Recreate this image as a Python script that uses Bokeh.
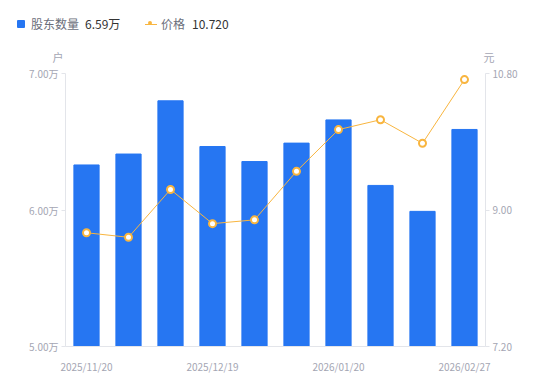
from bokeh.plotting import figure
from bokeh.layouts import column
from bokeh.models import (Range1d, LinearAxis, FixedTicker, PrintfTickFormatter,
                          ColumnDataSource, Div)
from bokeh.embed import file_html
from bokeh.resources import INLINE

dates = ["2025/11/20", "2025/11/30", "2025/12/10", "2025/12/19", "2025/12/31",
         "2026/01/09", "2026/01/20", "2026/01/30", "2026/02/10", "2026/02/27"]
holders = [6.33, 6.41, 6.80, 6.465, 6.355, 6.49, 6.66, 6.18, 5.99, 6.59]  # 万户
price = [8.70, 8.64, 9.27, 8.82, 8.87, 9.51, 10.06, 10.19, 9.88, 10.72]
shown_ticks = [0, 3, 6, 9]

FONT = "Noto Sans CJK SC"
BLUE = "#2676f2"
ORANGE = "#f8b53f"
GRAY = "#a4a6b3"
AX = "#e3e5ea"
W = 540

idx = list(range(len(dates)))
src = ColumnDataSource(dict(x=idx, holders=holders, price=price, date=dates))

p = figure(width=W, height=316, output_backend="svg", toolbar_location=None,
           x_range=Range1d(-0.5, 9.5), y_range=Range1d(5.0, 7.0),
           min_border_left=65, min_border_right=W - 485, min_border_top=8, min_border_bottom=35)
p.outline_line_color = None
p.grid.visible = False
p.extra_y_ranges = {"price": Range1d(7.2, 10.8)}

p.vbar(x="x", top="holders", bottom=5.0, width=0.6, color=BLUE, source=src)
p.line(x="x", y="price", y_range_name="price", line_color=ORANGE, line_width=1, source=src)
p.scatter(x="x", y="price", y_range_name="price", size=7, fill_color="white",
          line_color=ORANGE, line_width=2, source=src)

la = p.yaxis[0]
la.ticker = FixedTicker(ticks=[5.0, 6.0, 7.0])
la.formatter = PrintfTickFormatter(format="%.2f万")
ra = LinearAxis(y_range_name="price", ticker=FixedTicker(ticks=[7.2, 9.0, 10.8]),
                formatter=PrintfTickFormatter(format="%.2f"))
p.add_layout(ra, "right")
for a in (la, ra):
    a.axis_line_color = AX
    a.major_tick_line_color = AX
    a.major_tick_out = 4
    a.major_tick_in = 0
    a.minor_tick_line_color = None
    a.major_label_text_color = GRAY
    a.major_label_text_font = FONT
    a.major_label_text_font_size = "10px"
    a.major_label_standoff = 3

xa = p.xaxis[0]
xa.ticker = FixedTicker(ticks=shown_ticks)
xa.major_label_overrides = {i: dates[i] for i in shown_ticks}
xa.axis_line_color = AX
xa.major_tick_line_color = None
xa.minor_tick_line_color = None
xa.major_label_text_color = GRAY
xa.major_label_text_font = FONT
xa.major_label_text_font_size = "10px"
xa.major_label_standoff = 6


def span(left, top, text, color, size=12, extra=""):
    return (f'<span style="position:absolute;left:{left}px;top:{top}px;'
            f'color:{color};font-size:{size}px;line-height:16px;white-space:nowrap;{extra}">'
            f'{text}</span>')


header = (
    f'<div style="position:relative;width:{W}px;height:65px;font-family:\'{FONT}\';">'
    f'<span style="position:absolute;left:17px;top:20px;width:8px;height:8px;'
    f'background:{BLUE};border-radius:1px;"></span>'
    + span(31, 16, "股东数量", "#6b6e7a")
    + span(85, 16, "%.2f万" % holders[-1], "#333333")
    + f'<span style="position:absolute;left:145px;top:23.5px;width:12px;height:1.5px;background:{ORANGE};"></span>'
    f'<span style="position:absolute;left:147.5px;top:20.5px;width:3px;height:3px;'
    f'background:white;border:2px solid {ORANGE};border-radius:50%;"></span>'
    + span(161, 16, "价格", "#6b6e7a")
    + span(192, 16, "%.3f" % price[-1], "#333333")
    + span(52.5, 49, "户", GRAY, 11)
    + span(483.5, 49, "元", GRAY, 11)
    + '</div>'
)
h = Div(text=header, width=W, height=65, margin=0)

layout = column(h, p, spacing=0)
open("out.html", "w").write(file_html(layout, INLINE))
